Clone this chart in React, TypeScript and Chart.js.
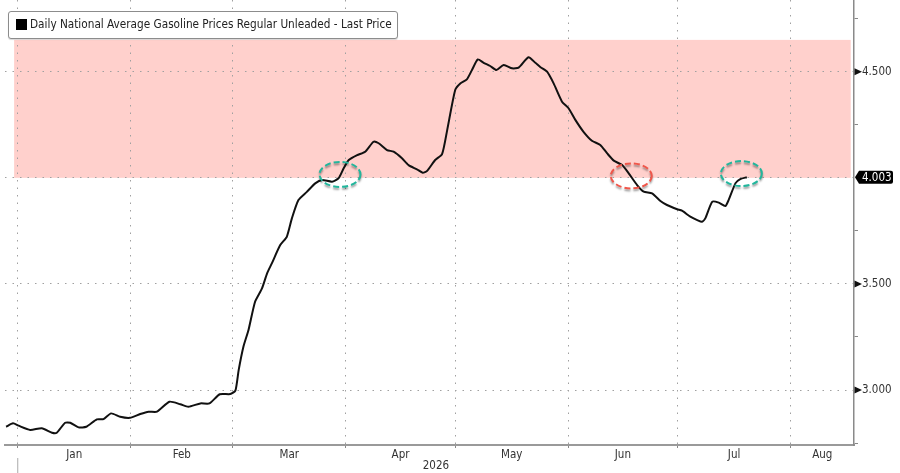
import React, { useEffect, useRef } from "react";
import { Chart, registerables } from "chart.js";

Chart.register(...registerables);

// ---- data ----
const seriesLabel = "Daily National Average Gasoline Prices Regular Unleaded - Last Price";
const yearLabel = "2026";
// day of year 2026 (0 = Jan 1)
const days = [
  -3.2, -1.3, 0.2, 3.4, 6.6, 9.4, 10.7, 13, 14.4, 16.7, 18.8, 21.7, 23.5, 25.6, 28.1, 30.8,
  33.6, 35.9, 38.2, 41.6, 44.6, 46.8, 50.1, 52.6, 55.4, 58.3, 59.7, 60.6, 61.9, 63.3, 65.1,
  67, 68.4, 69.7, 72, 73.8, 75.2, 77, 79.3, 81.6, 83.5, 86.2, 88, 89.4, 90.8, 93.1, 95.3,
  97.6, 99, 101.3, 103.1, 105.4, 107.2, 109.5, 111.1, 112.3, 114.5, 116.4, 117.8, 120,
  121.4, 123.2, 124.6, 126.2, 127.8, 129.6, 131.3, 133.3, 135.6, 137.4, 140.1, 142, 143.4,
  145.2, 147, 149.3, 151.1, 153, 155.2, 157.5, 159.8, 161.7, 163.5, 165.8, 167.6, 169.9,
  171.7, 174, 176.3, 178.1, 180.9, 182.2, 184.5, 186.4, 187.7, 188.6, 190.5, 192.3, 194.1,
  195, 196.9, 198.2, 200,
];
const prices = [
  2.827, 2.843, 2.832, 2.812, 2.82, 2.799, 2.799, 2.846, 2.846, 2.824, 2.827, 2.862, 2.863,
  2.89, 2.874, 2.869, 2.887, 2.898, 2.898, 2.945, 2.933, 2.921, 2.937, 2.937, 2.98, 2.981,
  2.997, 3.094, 3.204, 3.283, 3.416, 3.479, 3.55, 3.597, 3.683, 3.722, 3.809, 3.895, 3.934,
  3.974, 3.99, 3.982, 3.998, 4.045, 4.084, 4.107, 4.123, 4.17, 4.163, 4.131, 4.123, 4.092,
  4.06, 4.04, 4.024, 4.033, 4.084, 4.112, 4.225, 4.414, 4.445, 4.464, 4.508, 4.558, 4.542,
  4.527, 4.508, 4.532, 4.516, 4.519, 4.568, 4.542, 4.521, 4.5, 4.445, 4.359, 4.328, 4.272,
  4.217, 4.175, 4.155, 4.115, 4.081, 4.06, 4.021, 3.966, 3.935, 3.927, 3.891, 3.872, 3.852,
  3.845, 3.817, 3.801, 3.793, 3.809, 3.887, 3.883, 3.867, 3.895, 3.975, 3.994, 4.003,
];
const monthStarts = [0, 31, 59, 90, 120, 151, 181, 212];
const monthLabels = ["Jan", "Feb", "Mar", "Apr", "May", "Jun", "Jul", "Aug"];
const yMajor = [3.0, 3.5, 4.0, 4.5];
const yMinor = [2.75, 3.25, 3.75, 4.25, 4.75];
const yLabeled = [3.0, 3.5, 4.5];
const bandLow = 4.0;
const bandHigh = 4.65;
const bandStartDay = -1;
const bandEndDay = 228.5;
const circleDays = [88.4, 168.3, 198.5];
const circleValues = [4.016, 4.009, 4.02];
const circleColors = ["#22b69c", "#f0564a", "#22b69c"];
const xMin = -3.5;
const xMax = 229.4;
const yMin = 2.741;
const yMax = 4.838;

const FONT_FAMILY = "'DejaVu Sans Condensed', 'DejaVu Sans', sans-serif";

const monthMids = monthStarts.map((s, i) =>
  i + 1 < monthStarts.length ? (s + monthStarts[i + 1]) / 2 : (s + xMax) / 2
);

const overlayPlugin = {
  id: "overlay",
  beforeDraw(chart: any) {
    const { ctx, scales } = chart;
    const x = scales.x;
    const y = scales.y;
    ctx.save();
    ctx.fillStyle = "#ffd0cc";
    const x1 = x.getPixelForValue(bandStartDay);
    const x2 = x.getPixelForValue(bandEndDay);
    const y1 = y.getPixelForValue(bandHigh);
    const y2 = y.getPixelForValue(bandLow);
    ctx.fillRect(x1, y1, x2 - x1, y2 - y1);
    ctx.restore();
  },
  afterDatasetsDraw(chart: any) {
    const { ctx, scales } = chart;
    const x = scales.x;
    const y = scales.y;
    circleDays.forEach((d, i) => {
      const cx = x.getPixelForValue(d);
      const cy = y.getPixelForValue(circleValues[i]);
      ctx.save();
      ctx.shadowColor = "rgba(0,0,0,0.4)";
      ctx.shadowBlur = 2;
      ctx.shadowOffsetY = 2;
      ctx.strokeStyle = circleColors[i];
      ctx.lineWidth = 2;
      ctx.setLineDash([6, 3]);
      ctx.beginPath();
      ctx.ellipse(cx, cy, 20.5, 12.5, 0, 0, Math.PI * 2);
      ctx.stroke();
      ctx.restore();
    });
  },
  afterDraw(chart: any) {
    const { ctx, chartArea, scales } = chart;
    const x = scales.x;
    const y = scales.y;
    const right = chartArea.right;
    ctx.save();
    // triangles at labelled ticks
    ctx.fillStyle = "#111";
    yLabeled.forEach((v) => {
      const py = y.getPixelForValue(v);
      ctx.beginPath();
      ctx.moveTo(right + 0.5, py - 3.5);
      ctx.lineTo(right + 8, py);
      ctx.lineTo(right + 0.5, py + 3.5);
      ctx.closePath();
      ctx.fill();
    });
    // last price tag
    const last = prices[prices.length - 1];
    const ly = y.getPixelForValue(last);
    const h = 6.5;
    const bx = right + 5;
    const bw = 34;
    ctx.fillStyle = "#000";
    ctx.beginPath();
    ctx.moveTo(right + 1, ly);
    ctx.lineTo(bx, ly - h);
    ctx.lineTo(bx + bw - 2, ly - h);
    ctx.quadraticCurveTo(bx + bw, ly - h, bx + bw, ly - h + 2);
    ctx.lineTo(bx + bw, ly + h - 2);
    ctx.quadraticCurveTo(bx + bw, ly + h, bx + bw - 2, ly + h);
    ctx.lineTo(bx, ly + h);
    ctx.closePath();
    ctx.fill();
    ctx.fillStyle = "#fff";
    ctx.font = `11.5px ${FONT_FAMILY}`;
    ctx.textBaseline = "middle";
    ctx.textAlign = "left";
    ctx.fillText(last.toFixed(3), right + 8, ly + 0.5);
    // year separator and label
    const x0 = x.getPixelForValue(0);
    ctx.strokeStyle = "#aaa";
    ctx.lineWidth = 1;
    ctx.beginPath();
    ctx.moveTo(x0, 458);
    ctx.lineTo(x0, 473);
    ctx.stroke();
    ctx.fillStyle = "#333";
    ctx.textAlign = "center";
    ctx.fillText(yearLabel, (x0 + right) / 2, 466.5);
    ctx.restore();
  },
};

export default function App() {
  const canvasRef = useRef<HTMLCanvasElement>(null);

  useEffect(() => {
    if (!canvasRef.current) return;
    const chart = new Chart(canvasRef.current, {
      type: "line",
      data: {
        datasets: [
          {
            label: seriesLabel,
            data: days.map((d, i) => ({ x: d, y: prices[i] })),
            borderColor: "#111",
            borderWidth: 2,
            pointRadius: 0,
            tension: 0.2,
            fill: false,
          },
        ],
      },
      options: {
        animation: false,
        responsive: true,
        maintainAspectRatio: false,
        layout: { padding: { left: 5, right: 0, top: 0, bottom: 0 } },
        plugins: {
          legend: { display: false },
          tooltip: { enabled: false },
        },
        scales: {
          x: {
            type: "linear",
            position: "bottom",
            min: xMin,
            max: xMax,
            afterBuildTicks: (scale: any) => {
              const vals = [...monthStarts, ...monthMids].sort((a, b) => a - b);
              scale.ticks = vals.map((v) => ({ value: v }));
            },
            afterFit: (scale: any) => {
              scale.height = 28;
              scale.paddingLeft = 0;
              scale.paddingRight = 0;
            },
            ticks: {
              autoSkip: false,
              maxRotation: 0,
              minRotation: 0,
              padding: 0,
              color: "#333",
              font: { family: FONT_FAMILY, size: 11.5 },
              callback: (value: any) => {
                const idx = monthMids.indexOf(Number(value));
                return idx >= 0 ? monthLabels[idx] : "";
              },
            },
            grid: {
              drawOnChartArea: true,
              drawTicks: true,
              tickLength: 3,
              lineWidth: 1,
              color: (ctx: any) =>
                ctx.tick && monthStarts.includes(ctx.tick.value) ? "#a0a0a0" : "transparent",
              tickColor: (ctx: any) =>
                ctx.tick && monthStarts.includes(ctx.tick.value) ? "#888" : "transparent",
            },
            border: { display: true, color: "#9a9a9a", width: 2, dash: [1.5, 6] },
          },
          y: {
            type: "linear",
            position: "right",
            min: yMin,
            max: yMax,
            afterBuildTicks: (scale: any) => {
              const vals = [...yMajor, ...yMinor].sort((a, b) => a - b);
              scale.ticks = vals.map((v) => ({ value: v }));
            },
            afterFit: (scale: any) => {
              scale.width = 46;
              scale.paddingTop = 0;
              scale.paddingBottom = 0;
            },
            ticks: {
              padding: 4,
              color: "#333",
              font: { family: FONT_FAMILY, size: 11.5 },
              callback: (value: any) =>
                yLabeled.includes(Number(value)) ? Number(value).toFixed(3) : "",
            },
            grid: {
              drawOnChartArea: true,
              drawTicks: true,
              tickLength: 4,
              lineWidth: 1,
              color: (ctx: any) =>
                ctx.tick && yMajor.includes(ctx.tick.value) ? "#a0a0a0" : "transparent",
              tickColor: (ctx: any) =>
                ctx.tick && yMinor.includes(ctx.tick.value) ? "#888" : "transparent",
            },
            border: { display: true, color: "#8a8a8a", width: 1.5, dash: [1.5, 6] },
          },
        },
      },
      plugins: [overlayPlugin],
    } as any);
    return () => chart.destroy();
  }, []);

  return (
    <div
      style={{
        position: "absolute",
        left: 0,
        top: 0,
        width: 900,
        height: 473,
        background: "#fff",
        overflow: "hidden",
      }}
    >
      <canvas ref={canvasRef} />
      <div
        style={{
          position: "absolute",
          left: 8,
          top: 11,
          width: 390,
          height: 28,
          boxSizing: "border-box",
          border: "1px solid #8c8c8c",
          borderRadius: 3,
          background: "#fff",
          boxShadow: "0 1px 1px rgba(0,0,0,0.15)",
          fontFamily: FONT_FAMILY,
          fontSize: 11.7,
          color: "#222",
          whiteSpace: "nowrap",
        }}
      >
        <span
          style={{
            position: "absolute",
            left: 7,
            top: 7,
            width: 11,
            height: 11,
            background: "#000",
          }}
        />
        <span style={{ position: "absolute", left: 21, top: 5, lineHeight: "15px" }}>
          {seriesLabel}
        </span>
      </div>
    </div>
  );
}
